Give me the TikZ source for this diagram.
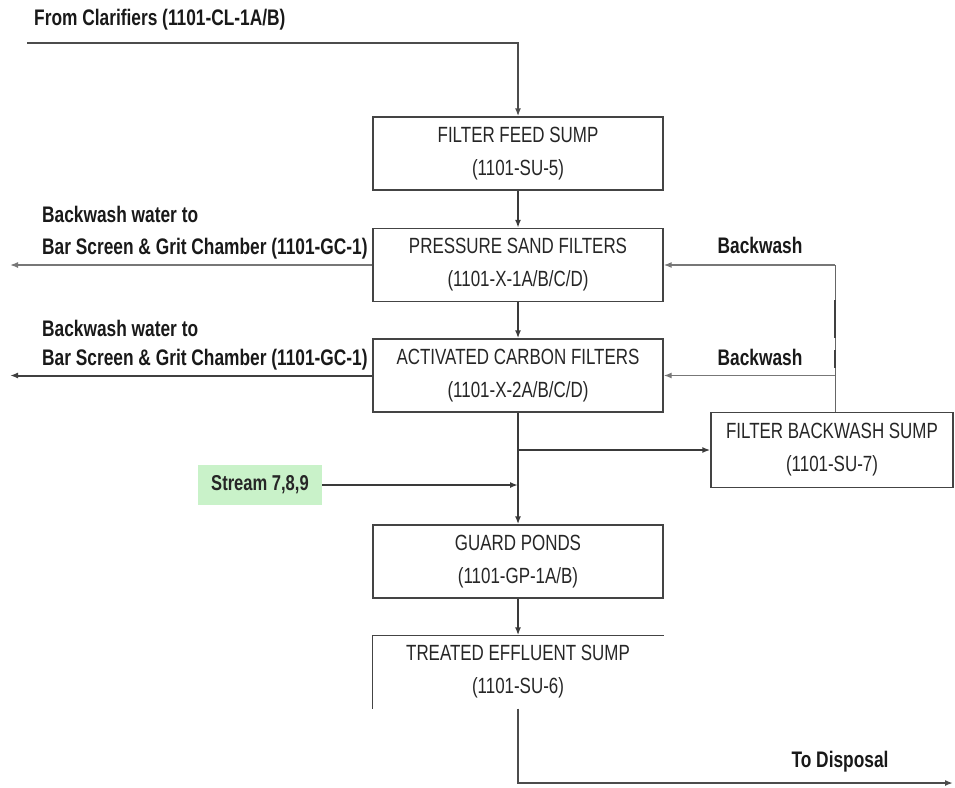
\documentclass[tikz,border=0pt]{standalone}
\usepackage{fontspec}
\setmainfont{Liberation Sans}[FakeStretch=0.77]
\usetikzlibrary{arrows.meta}
\definecolor{boxline}{HTML}{444444}
\definecolor{flow}{HTML}{3A3A3A}
\definecolor{wash}{HTML}{777777}
\definecolor{streamfill}{HTML}{C9F2C9}
\tikzset{
  unit/.style={draw=boxline, line width=1.4pt, fill=white, minimum width=290pt,
    minimum height=73pt, align=center, text=black!85,
    font=\fontsize{22}{33}\selectfont},
  tag/.style={anchor=west, inner sep=0pt, text=black!90,
    font=\fontsize{22.5}{23}\selectfont\bfseries},
  flowline/.style={draw=flow, line width=1.6pt},
  washline/.style={draw=wash, line width=1.3pt},
  tip/.style={-{Latex[length=8pt,width=6pt]}}
}
\begin{document}
\begin{tikzpicture}[x=1pt,y=-1pt]
\useasboundingbox (0,0) rectangle (955,787);

% process units
\node[unit] (feed)   at (518,153.5) {FILTER FEED SUMP\\(1101-SU-5)};
\node[unit] (sand)   at (518,265)   {PRESSURE SAND FILTERS\\(1101-X-1A/B/C/D)};
\node[unit] (carbon) at (518,375.5) {ACTIVATED CARBON FILTERS\\(1101-X-2A/B/C/D)};
\node[unit] (guard)  at (518,561.5) {GUARD PONDS\\(1101-GP-1A/B)};
\node[unit, draw=none, fill=none, minimum height=72pt] (treated) at (518,672)
  {TREATED EFFLUENT SUMP\\(1101-SU-6)};
\node[unit, minimum width=242pt, minimum height=75pt] (backsump) at (832,450)
  {FILTER BACKWASH SUMP\\(1101-SU-7)};
\node[fill=streamfill, minimum width=124pt, minimum height=40pt, inner sep=0pt,
  font=\fontsize{21.5}{22}\selectfont\bfseries, text=black!85] (stream) at (260,485) {Stream 7,8,9};

% treated effluent sump is drawn open at the right and bottom
\draw[boxline, line width=1.4pt] (treated.north east) -- (treated.north west) -- (treated.south west);

% labels
\node[tag] (clar) at (34,20) {From Clarifiers (1101-CL-1A/B)};
\node[tag] (bw1a) at (42,214) {Backwash water to};
\node[tag] (bw1b) at (42,249) {Bar Screen \& Grit Chamber (1101-GC-1)};
\node[tag] (bw2a) at (42,328) {Backwash water to};
\node[tag] (bw2b) at (42,360) {Bar Screen \& Grit Chamber (1101-GC-1)};
\node[tag, anchor=center] (bk1) at (760,245) {Backwash};
\node[tag, anchor=center] (bk2) at (760,357) {Backwash};
\node[tag, anchor=center] (disp) at (840,762) {To Disposal};

% free ends of the connectors
\coordinate (inlet) at (27,43);
\coordinate (out1) at (10,265);
\coordinate (out2) at (10,375.5);
\coordinate (wash) at (835,265);
\coordinate (split) at (518,450);
\coordinate (outlet) at (953,783);

% main flow
\draw[flowline, tip, line width=2pt, draw=black!70] (inlet) -| (feed.north);
\draw[flowline, tip] (feed.south) -- (sand.north);
\draw[flowline, tip] (sand.south) -- (carbon.north);
\draw[flowline, tip] (carbon.south) -- (guard.north);
\draw[flowline, tip] (guard.south) -- (treated.north);
\draw[flowline, tip, line width=2pt, draw=black!70] (treated.south) |- (outlet);
\draw[flowline, tip, line width=2.2pt] (split) -- (backsump.west);
\draw[flowline, tip, line width=2.4pt] (stream.east) -- (stream.east -| carbon.south);

% backwash water out to the bar screen
\draw[washline, tip, line width=1.5pt] (sand.west) -- (out1);
\draw[flowline, tip, line width=2pt, draw=black!75] (carbon.west) -- (out2);

% backwash supply from the sump
\draw[draw=black!60, line width=0.9pt] (backsump.north -| wash) -- (wash);
\draw[draw=black!75, line width=2.6pt] (835,300) -- (835,338);
\draw[draw=black!75, line width=2.6pt] (835,350) -- (835,368);
\draw[washline, tip] (wash) -- (sand.east);
\draw[washline, tip] (wash |- carbon.east) -- (carbon.east);
\end{tikzpicture}
\end{document}
